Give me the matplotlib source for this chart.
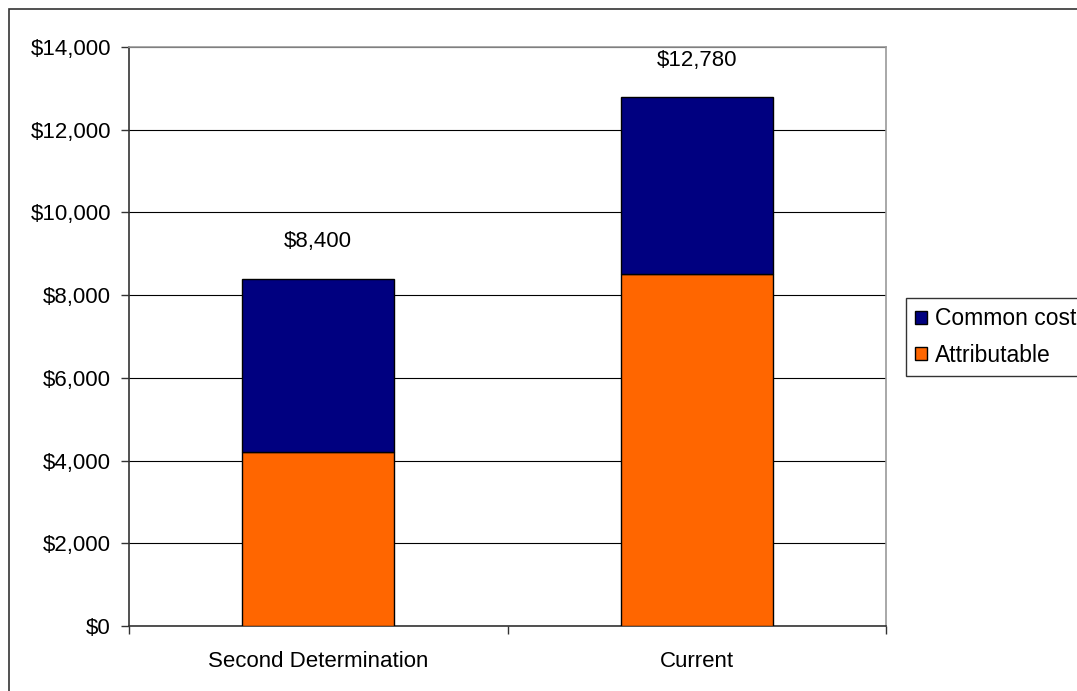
import matplotlib
matplotlib.use("Agg")
import matplotlib.pyplot as plt
from matplotlib.patches import Rectangle, Patch
from matplotlib.ticker import FuncFormatter, FixedLocator

plt.rcParams['font.family'] = ['Liberation Sans', 'DejaVu Sans']

categories = ["Second Determination", "Current"]
attributable = [4200, 8500]
common_cost = [4200, 4280]
totals = [8400, 12780]
total_labels = ["$8,400", "$12,780"]

W, H = 1077, 691
FS = 16
fig = plt.figure(figsize=(W / 100, H / 100), dpi=100)

# Outer chart border
fig.patches.append(Rectangle((9 / W, -0.05), 1.2, 1 - 9 / H + 0.05,
                             transform=fig.transFigure, fill=False,
                             edgecolor='#333333', linewidth=1.2, zorder=0))

ax = fig.add_axes([129 / W, 1 - 626 / H, (886 - 129) / W, (626 - 47) / H])

x = list(range(len(categories)))
bw = 0.402
orange = '#FF6600'
navy = '#000080'
ax.bar(x, attributable, width=bw, color=orange, edgecolor='black', linewidth=1.0, zorder=3)
ax.bar(x, common_cost, width=bw, bottom=attributable, color=navy, edgecolor='black',
       linewidth=1.0, zorder=3)

for xi, t, lab in zip(x, totals, total_labels):
    ax.annotate(lab, (xi, t), xytext=(0, 37), textcoords='offset pixels',
                ha='center', va='center', fontsize=FS, color='black')

ax.set_xlim(-0.5, len(categories) - 0.5)
ax.set_ylim(0, 14000)
ax.set_yticks(range(0, 14001, 2000))
ax.yaxis.set_major_formatter(FuncFormatter(lambda v, p: f"${v:,.0f}"))
ax.grid(axis='y', color='black', linewidth=0.8, zorder=1)

ax.set_xticks(x)
ax.set_xticklabels(categories)
ax.xaxis.set_minor_locator(FixedLocator([-0.5, 0.5, 1.5]))
ax.tick_params(axis='x', which='major', length=0, pad=18, labelsize=FS)
ax.tick_params(axis='x', which='minor', length=6, width=1.0, color='#333333')
ax.tick_params(axis='y', length=6, width=1.0, color='#333333', labelsize=FS, pad=7)

for side in ('top', 'right'):
    ax.spines[side].set_color('#999999')
    ax.spines[side].set_linewidth(1.2)
for side in ('left', 'bottom'):
    ax.spines[side].set_color('#333333')
    ax.spines[side].set_linewidth(1.2)

handles = [Patch(facecolor=navy, edgecolor='black', label='Common cost'),
           Patch(facecolor=orange, edgecolor='black', label='Attributable')]
leg = fig.legend(handles=handles, loc='upper left',
                 bbox_to_anchor=(906 / W, 1 - 298 / H),
                 fontsize=16.5, frameon=True, fancybox=False, edgecolor='black',
                 handlelength=0.5, handleheight=0.5, handletextpad=0.35,
                 borderpad=0.4, labelspacing=0.6, borderaxespad=0)
leg.get_frame().set_linewidth(1.0)

fig.savefig("out.png", dpi=100)
